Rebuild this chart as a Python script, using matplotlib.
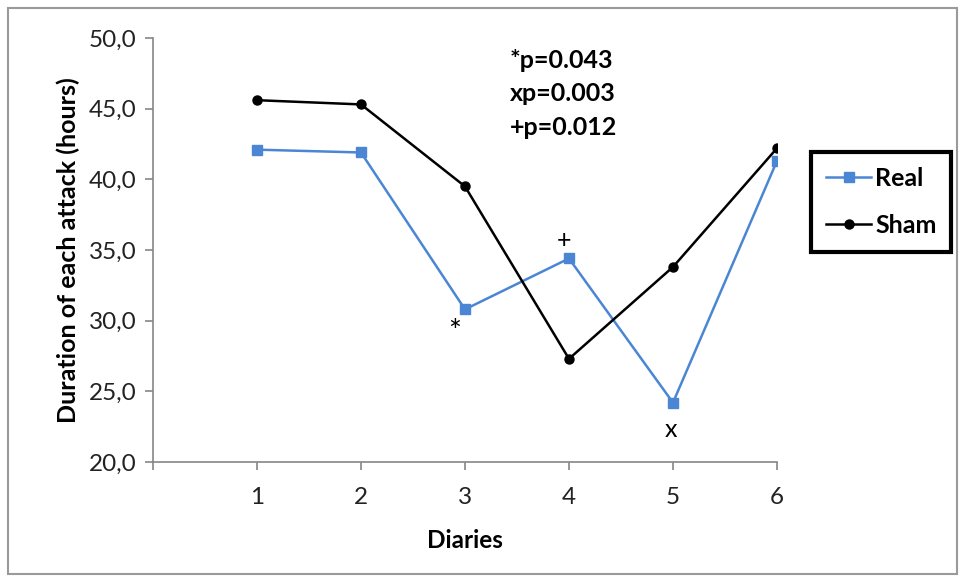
import matplotlib.pyplot as plt
from matplotlib.ticker import FuncFormatter
from matplotlib.patches import Rectangle

diaries = [1, 2, 3, 4, 5, 6]
real = [42.1, 41.9, 30.8, 34.4, 24.2, 41.3]
sham = [45.6, 45.3, 39.5, 27.3, 33.8, 42.2]

# significance marks next to the Real series
marks = ['*', '+', 'x']
mark_x = [3, 4, 5]
stats = ['*p=0.043', 'xp=0.003', '+p=0.012']

plt.rcParams['font.family'] = ['Lato', 'DejaVu Sans']

blue = '#4a86d4'
gray = '#868686'

fig = plt.figure(figsize=(9.61, 5.81), dpi=100)
fig.patches.append(Rectangle((0.008, 0.012), 0.988, 0.975, transform=fig.transFigure,
                             fill=False, edgecolor='#9a9a9a', linewidth=1.5))
ax = fig.add_axes([0.1592, 0.2048, 0.6493, 0.7298])

ax.plot(diaries, real, color=blue, marker='s', markersize=7, linewidth=1.8, label='Real')
ax.plot(diaries, sham, color='black', marker='o', markersize=6.5, linewidth=1.8, label='Sham')

ax.set_xlim(0, 6)
ax.set_ylim(20, 50)
ax.set_xticks(range(0, 7))
ax.set_xticklabels([''] + [str(d) for d in diaries])
ax.set_yticks(range(20, 51, 5))
ax.yaxis.set_major_formatter(FuncFormatter(lambda v, p: f'{v:.1f}'.replace('.', ',')))

for s in ['top', 'right']:
    ax.spines[s].set_visible(False)
for s in ['left', 'bottom']:
    ax.spines[s].set_color(gray)
    ax.spines[s].set_linewidth(1.2)
ax.tick_params(axis='both', colors=gray, length=6, width=1.2, labelcolor='#222222', labelsize=17.5)
ax.tick_params(axis='x', pad=12)
ax.tick_params(axis='y', pad=6)

ax.set_xlabel('Diaries', fontsize=17.5, fontweight='bold', labelpad=15)
ax.set_ylabel('Duration of each attack (hours)', fontsize=18, fontweight='bold', labelpad=6)

# significance symbols
offsets = {'*': (-0.1, -1.6), '+': (-0.05, 1.3), 'x': (-0.02, -1.9)}
sizes = {'*': 22, '+': 18, 'x': 18}
for m, x in zip(marks, mark_x):
    dx, dy = offsets[m]
    ax.text(x + dx, real[x - 1] + dy, m, ha='center', va='center', fontsize=sizes[m])

for i, s in enumerate(stats):
    ax.text(0.572, 0.948 - i * 0.079, s, transform=ax.transAxes, ha='left', va='center',
            fontsize=18, fontweight='bold')

leg = ax.legend(loc='upper left', bbox_to_anchor=(1.055, 0.731), frameon=True, fancybox=False,
                prop={'weight': 'bold', 'size': 18}, handlelength=1.8, borderpad=0.6,
                labelspacing=0.95, handletextpad=0.15, borderaxespad=0, framealpha=1)
leg.get_frame().set_edgecolor('black')
leg.get_frame().set_linewidth(3)

fig.savefig('out.png', dpi=100)
